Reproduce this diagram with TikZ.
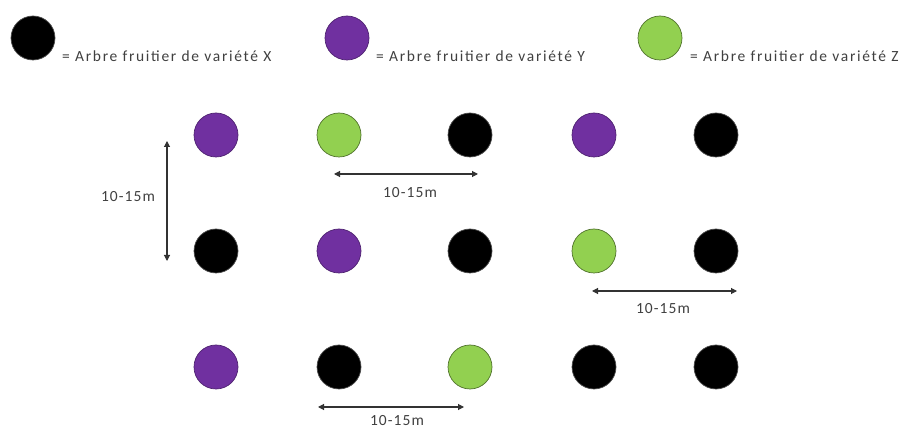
\documentclass[tikz,border=0pt]{standalone}
\usepackage{fontspec}
\setmainfont{Carlito}[LetterSpace=7]
\newfontfamily\legfont{Carlito}[LetterSpace=11]
\usetikzlibrary{arrows.meta}
\definecolor{treeX}{HTML}{000000}
\definecolor{treeY}{HTML}{7030A0}
\definecolor{treeZ}{HTML}{92D050}
\definecolor{txt}{HTML}{404040}
\begin{document}
\begin{tikzpicture}[x=1pt,y=-1pt,
  tree/.style={circle,minimum size=44pt,inner sep=0pt,line width=0.7pt},
  tx/.style={tree,fill=treeX,draw=black!70},
  ty/.style={tree,fill=treeY,draw=treeY!70!black},
  tz/.style={tree,fill=treeZ,draw=treeZ!55!black},
  lbl/.style={text=txt,font=\fontsize{15.5}{17}\selectfont,inner sep=0pt},
  leg/.style={lbl,font=\legfont\fontsize{15.5}{17}\selectfont,anchor=base west},
  dim/.style={{Triangle[length=6pt,width=6pt]}-{Triangle[length=6pt,width=6pt]},line width=1.1pt,draw=black!80}]
\useasboundingbox (0,0) rectangle (906,430);
% legend
\node[tx] (lx) at (33,38) {};
\node[ty] (ly) at (347,38) {};
\node[tz] (lz) at (660,38) {};
\node[leg] (tlx) at (62,62) {= Arbre fruitier de variété X};
\node[leg] (tly) at (376,62) {= Arbre fruitier de variété Y};
\node[leg] (tlz) at (690,62) {= Arbre fruitier de variété Z};
% grid
\node[ty] (a1) at (216,135) {};
\node[tz] (a2) at (339,135) {};
\node[tx] (a3) at (470,135) {};
\node[ty] (a4) at (594,135) {};
\node[tx] (a5) at (716,135) {};
\node[tx] (b1) at (216,251) {};
\node[ty] (b2) at (339,251) {};
\node[tx] (b3) at (470,251) {};
\node[tz] (b4) at (594,251) {};
\node[tx] (b5) at (716,251) {};
\node[ty] (c1) at (216,367) {};
\node[tx] (c2) at (339,367) {};
\node[tz] (c3) at (470,367) {};
\node[tx] (c4) at (594,367) {};
\node[tx] (c5) at (716,367) {};
% dimension arrows
\coordinate (v1) at (167,141);
\coordinate (v2) at (167,261);
\draw[dim] (v1) -- (v2);
\node[lbl] (vl) at (128,197) {10-15m};
\coordinate (h1a) at (334,174);
\coordinate (h1b) at (478,174);
\draw[dim] (h1a) -- (h1b);
\node[lbl] (h1l) at (410,193) {10-15m};
\coordinate (h2a) at (592,291);
\coordinate (h2b) at (737,291);
\draw[dim] (h2a) -- (h2b);
\node[lbl] (h2l) at (663,309) {10-15m};
\coordinate (h3a) at (318,407);
\coordinate (h3b) at (464,407);
\draw[dim] (h3a) -- (h3b);
\node[lbl] (h3l) at (397,421) {10-15m};
\end{tikzpicture}
\end{document}
